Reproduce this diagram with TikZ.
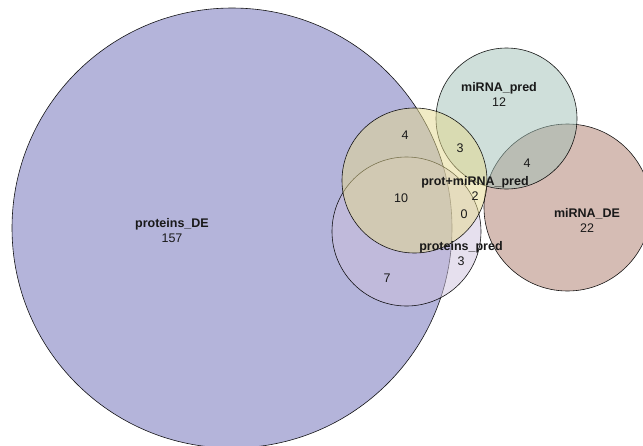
\documentclass[tikz,border=0pt]{standalone}
\usepackage{fontspec}
\setmainfont{Liberation Sans}
\usetikzlibrary{positioning}
\definecolor{protDE}{RGB}{105,105,181}
\definecolor{protPred}{RGB}{205,193,221}
\definecolor{mirDE}{RGB}{171,121,105}
\definecolor{mirPred}{RGB}{159,191,181}
\definecolor{bothPred}{RGB}{228,216,140}
\begin{document}
\begin{tikzpicture}[x=1pt, y=-1pt, every node/.style={font=\fontsize{12.5}{14}\selectfont, text=black!90}, set/.style={circle, draw=black, line width=0.6pt, inner sep=0pt, outer sep=0pt, fill opacity=0.5, draw opacity=0.9}, setname/.style={font=\fontsize{12.5}{14}\selectfont\bfseries, inner sep=0pt}, count/.style={inner sep=0pt}]
\useasboundingbox (0,0) rectangle (643,445);
\clip (0,0) rectangle (643,445);
% sets
\node[set, fill=protDE, minimum size=440pt] (pDE) at (232,228) {};
\node[set, fill=protPred, minimum size=149pt] (pPred) at (406.5,231.5) {};
\node[set, fill=mirDE, minimum size=167pt] (mDE) at (567.5,207.5) {};
\node[set, fill=mirPred, minimum size=141pt] (mPred) at (506.5,118.5) {};
\node[set, fill=bothPred, minimum size=145pt] (bPred) at (414.5,180.5) {};
% set names
\node[setname] (pDEname) at (172,224) {proteins\_DE};
\node[count, below=4pt of pDEname] (pDEn) {157};
\node[setname] (mPredname) at (499,88) {miRNA\_pred};
\node[count, below=4pt of mPredname] (mPredn) {12};
\node[setname] (mDEname) at (587,214) {miRNA\_DE};
\node[count, below=4pt of mDEname] (mDEn) {22};
\node[setname] (bPredname) at (475,182) {prot+miRNA\_pred};
\node[count, below=4pt of bPredname] (bPredn) {2};
\node[setname] (pPredname) at (461,247) {proteins\_pred};
\node[count, below=4pt of pPredname] (pPredn) {3};
% overlaps
\node[count] (ovA) at (405,135) {4};
\node[count] (ovB) at (460,148) {3};
\node[count] (ovC) at (527,163) {4};
\node[count] (ovD) at (401,198) {10};
\node[count] (ovE) at (464,214) {0};
\node[count] (ovF) at (387,278) {7};
\end{tikzpicture}
\end{document}
